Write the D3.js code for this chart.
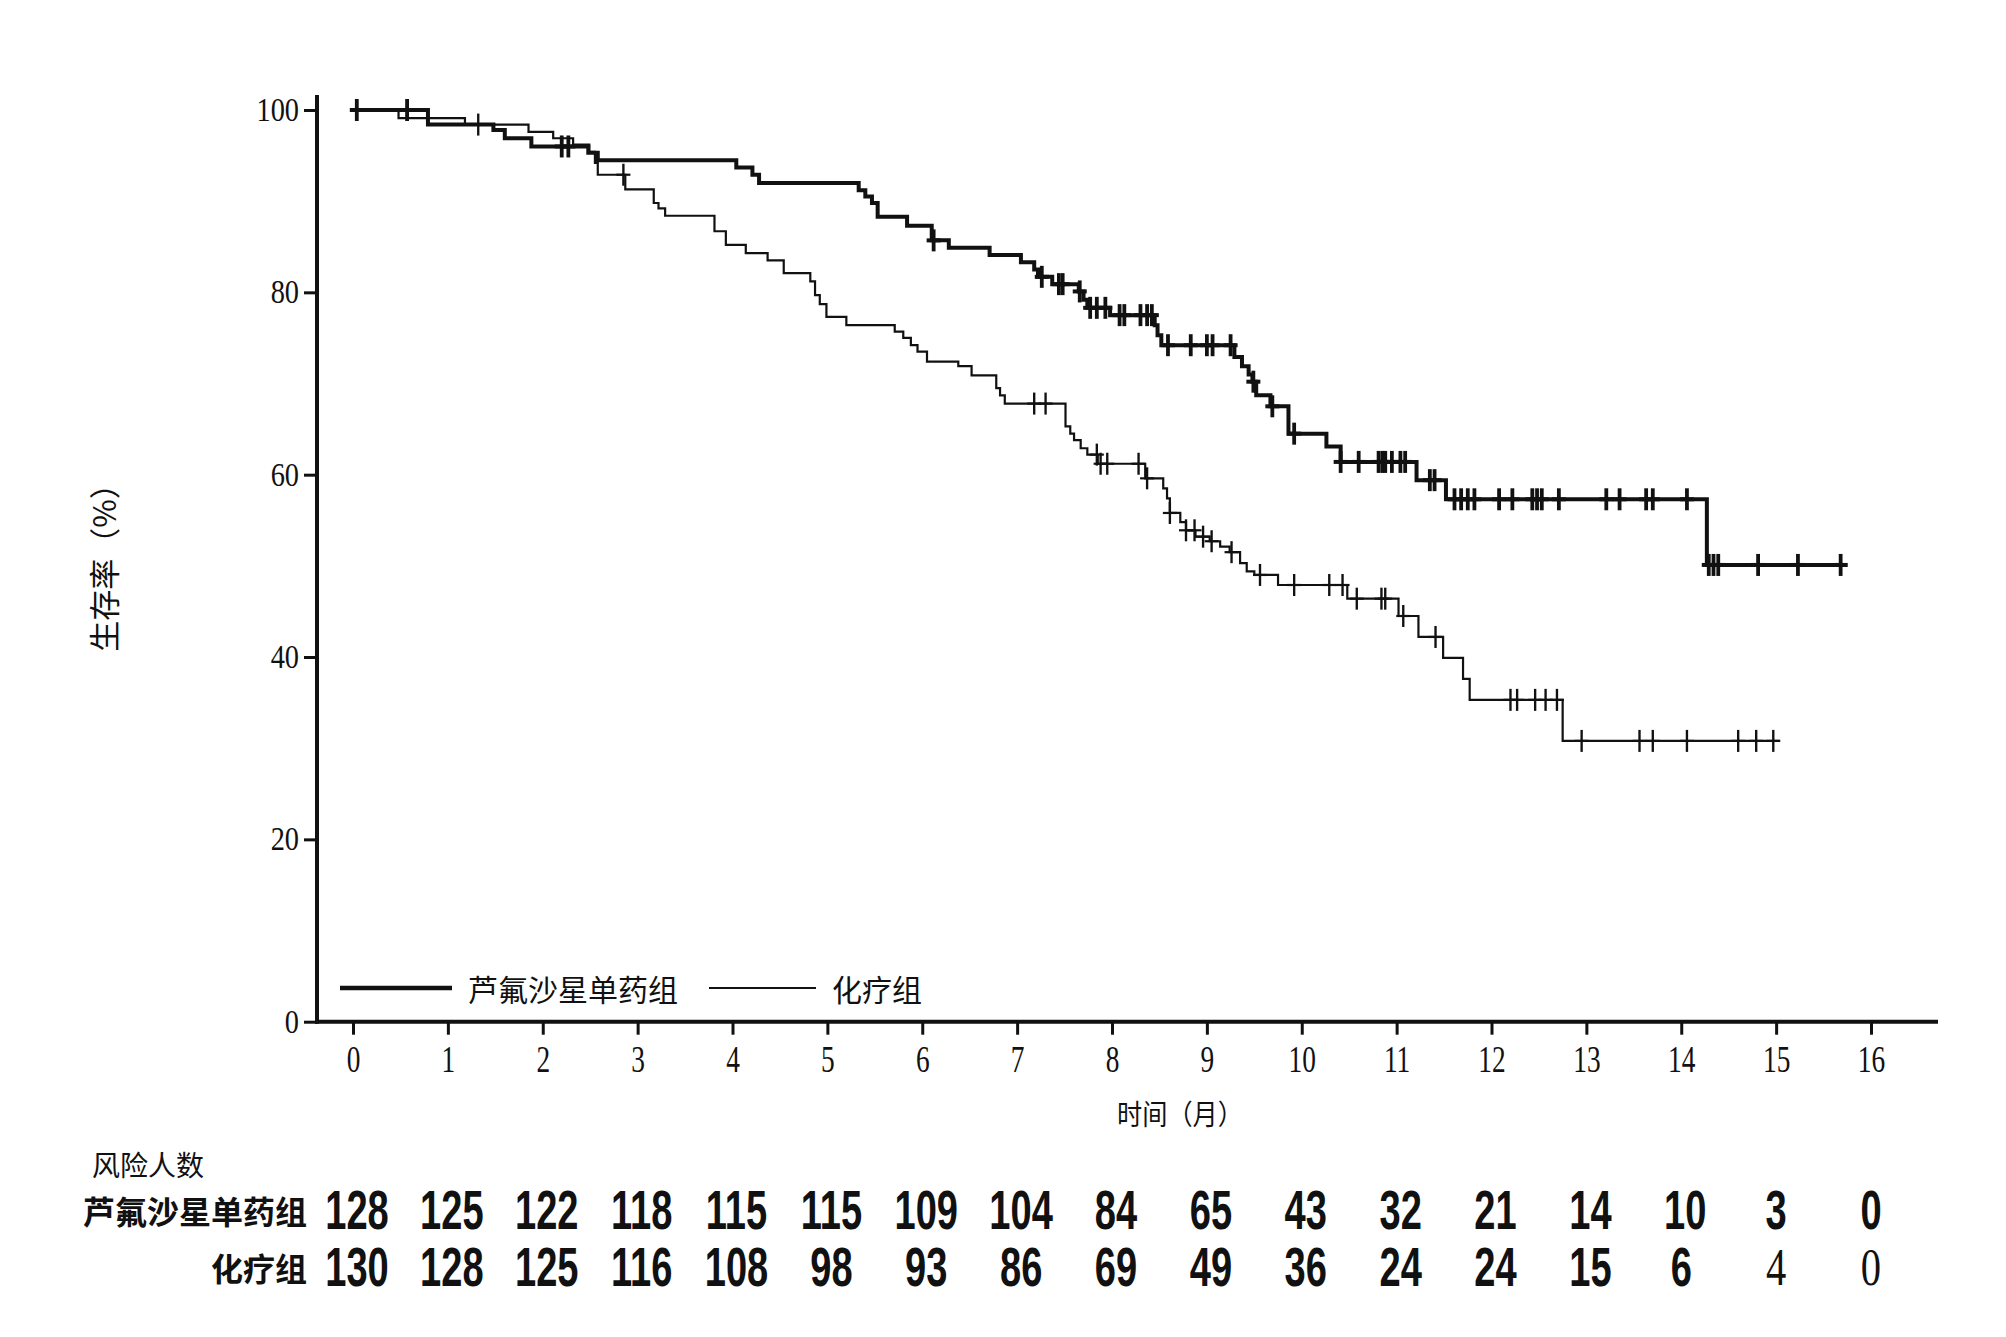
<!DOCTYPE html>
<html>
<head>
<meta charset="utf-8">
<script src="https://cdnjs.cloudflare.com/ajax/libs/d3/7.8.5/d3.min.js"></script>
<style>
    body { margin: 0; background: #fff; }
    svg { display: block; }
    .axis path.domain { display: none; }
    .axis line { stroke: #111; stroke-width: 3; }
    .axis text { fill: #111; font-family: "Liberation Serif", "Times New Roman", serif; }
    .cjk { font-family: "Noto Sans CJK SC", sans-serif; fill: #111; }
</style>
</head>
<body>
<div id="chart-area"></div>
<script>
// KM steps: time (months) -> survival (%) from that time on
var lfxTimes = [0, 0.79, 1.48, 1.60, 1.88, 2.48, 2.58, 4.04, 4.21, 4.28, 5.33, 5.40, 5.47, 5.53,
    5.84, 6.10, 6.28, 6.71, 7.04, 7.18, 7.22, 7.37, 7.65, 7.70, 7.74, 7.98, 8.45, 8.48, 8.52,
    9.29, 9.37, 9.44, 9.48, 9.52, 9.67, 9.86, 10.26, 10.41, 11.21, 11.52, 14.27];
var lfxSurv = [100, 98.4, 97.8, 96.9, 96.0, 95.3, 94.5, 93.7, 92.9, 92.0, 91.2, 90.5, 89.8, 88.3,
    87.3, 85.7, 84.9, 84.1, 83.3, 82.5, 81.7, 80.9, 80.1, 79.2, 78.3, 77.5, 76.4, 75.3, 74.2,
    72.9, 71.9, 71.0, 70.2, 68.7, 67.5, 64.5, 63.1, 61.4, 59.4, 57.3, 50.1];
var lfxEnd = 15.75;
var lfxCensor = [0.04, 0.57, 2.20, 2.27, 6.12, 7.26, 7.44, 7.48, 7.66, 7.77, 7.84, 7.93, 8.08, 8.13,
    8.30, 8.37, 8.42, 8.59, 8.83, 9.00, 9.06, 9.25, 9.49, 9.69, 9.92, 10.41, 10.60, 10.81, 10.85,
    10.88, 10.95, 11.04, 11.09, 11.35, 11.40, 11.61, 11.68, 11.75, 11.82, 12.08, 12.22, 12.43,
    12.48, 12.53, 12.71, 13.21, 13.35, 13.63, 13.70, 14.06, 14.29, 14.34, 14.39, 14.81, 15.23, 15.68];

var chemoTimes = [0, 0.48, 1.18, 1.85, 2.11, 2.32, 2.49, 2.55, 2.58, 2.87, 3.17, 3.22, 3.29, 3.81,
    3.93, 4.14, 4.37, 4.54, 4.82, 4.87, 4.92, 4.99, 5.20, 5.71, 5.80, 5.88, 5.95, 6.05, 6.38, 6.52,
    6.78, 6.82, 6.87, 7.51, 7.56, 7.60, 7.67, 7.74, 7.85, 8.35, 8.54, 8.58, 8.61, 8.72, 8.78, 8.88,
    9.03, 9.14, 9.24, 9.35, 9.42, 9.50, 9.75, 10.48, 11.02, 11.23, 11.49, 11.70, 11.77, 12.75];
var chemoSurv = [100, 99.1, 98.4, 97.6, 96.9, 96.2, 95.4, 94.2, 92.9, 91.3, 89.8, 89.2, 88.4, 86.7,
    85.2, 84.3, 83.5, 82.1, 81.2, 79.7, 78.7, 77.3, 76.4, 75.7, 75.0, 74.2, 73.5, 72.4, 71.9, 70.9,
    69.5, 68.7, 67.8, 65.3, 64.5, 63.8, 62.9, 62.2, 61.2, 59.6, 58.5, 57.4, 55.8, 54.8, 53.9, 53.2,
    52.7, 52.1, 51.5, 50.3, 49.4, 49.0, 47.9, 46.4, 44.5, 42.2, 39.9, 37.6, 35.3, 30.8];
var chemoEnd = 15.04;
var chemoCensor = [1.32, 2.85, 7.18, 7.30, 7.84, 7.88, 7.95, 8.28, 8.37, 8.61, 8.78, 8.87, 8.96,
    9.05, 9.26, 9.56, 9.92, 10.29, 10.43, 10.58, 10.84, 10.88, 11.07, 11.41, 12.20, 12.27, 12.46,
    12.57, 12.69, 12.95, 13.56, 13.70, 14.06, 14.60, 14.79, 14.97];

var monthTicks = [0, 1, 2, 3, 4, 5, 6, 7, 8, 9, 10, 11, 12, 13, 14, 15, 16];
var survTicks = [0, 20, 40, 60, 80, 100];
var riskLfx = [128, 125, 122, 118, 115, 115, 109, 104, 84, 65, 43, 32, 21, 14, 10, 3, 0];
var riskChemo = [130, 128, 125, 116, 108, 98, 93, 86, 69, 49, 36, 24, 24, 15, 6, 4, 0];

var width = 2006;
var height = 1337;

var svg = d3.select('#chart-area')
    .append("svg")
        .attr("width", width)
        .attr("height", height);

var x = d3.scaleLinear().domain([0, 16]).range([353, 1871]);
var y = d3.scaleLinear().domain([0, 100]).range([1021.7, 110]);

function survAt(times, surv, t) {
    var i = d3.bisectRight(times, t) - 1;
    return surv[Math.max(i, 0)];
}

function stepPoints(times, surv, end) {
    var pts = times.map((t, i) => [t, surv[i]]);
    pts.push([end, surv[surv.length - 1]]);
    return pts;
}

// axes
var yAxisCall = d3.axisLeft(y).tickValues(survTicks).tickSize(13).tickPadding(6);
svg.append("g")
    .attr('class', 'axis')
    .attr("transform", "translate(317,0)")
    .call(yAxisCall)
    .selectAll("text")
        .attr('font-size', 33)
        .attr('x', -18 / 0.86)
        .attr('transform', 'scale(0.86,1)');

var xAxisCall = d3.axisBottom(x).tickValues(monthTicks).tickSize(13).tickPadding(10);
svg.append("g")
    .attr('class', 'axis')
    .attr("transform", "translate(0," + y(0) + ")")
    .call(xAxisCall)
    .selectAll("text")
        .attr('font-size', 38)
        .attr('transform', 'scale(0.72,1)');

svg.append("line")
    .attr("x1", 317).attr("x2", 317)
    .attr("y1", 95).attr("y2", y(0) + 2)
    .attr("stroke", "#111").attr("stroke-width", 4);
svg.append("line")
    .attr("x1", 315).attr("x2", 1938)
    .attr("y1", y(0)).attr("y2", y(0))
    .attr("stroke", "#111").attr("stroke-width", 4);

// curves
var line = d3.line()
    .x(d => x(d[0]))
    .y(d => y(d[1]))
    .curve(d3.curveStepAfter);

var groups = [
    { times: chemoTimes, surv: chemoSurv, end: chemoEnd, censor: chemoCensor, w: 2.2 },
    { times: lfxTimes, surv: lfxSurv, end: lfxEnd, censor: lfxCensor, w: 4 }
];

groups.forEach(s => {
    svg.append("path")
        .attr("d", line(stepPoints(s.times, s.surv, s.end)))
        .attr("fill", "none")
        .attr("stroke", "#111")
        .attr("stroke-width", s.w);

    var marks = svg.append("g").selectAll("g")
        .data(s.censor)
        .enter().append("g")
            .attr("transform", d => "translate(" + x(d) + "," + y(survAt(s.times, s.surv, d)) + ")");
    marks.append("line")
        .attr("y1", -11).attr("y2", 11)
        .attr("stroke", "#111").attr("stroke-width", s.w * 0.8 + 0.6);
    marks.append("line")
        .attr("x1", -7).attr("x2", 7)
        .attr("stroke", "#111").attr("stroke-width", s.w);
});

// legend
svg.append("line").attr("x1", 340).attr("x2", 452).attr("y1", 988).attr("y2", 988)
    .attr("stroke", "#111").attr("stroke-width", 4.5);
svg.append("text").attr("class", "cjk").attr("x", 468).attr("y", 988)
    .attr("dominant-baseline", "central").attr("font-size", 30)
    .text("芦氟沙星单药组");
svg.append("line").attr("x1", 709).attr("x2", 816).attr("y1", 988).attr("y2", 988)
    .attr("stroke", "#111").attr("stroke-width", 2.2);
svg.append("text").attr("class", "cjk").attr("x", 832).attr("y", 988)
    .attr("dominant-baseline", "central").attr("font-size", 30)
    .text("化疗组");

// axis titles
svg.append("text").attr("class", "cjk")
    .attr("transform", "translate(1180,1113) scale(0.9,1)")
    .attr("text-anchor", "middle").attr("dominant-baseline", "central")
    .attr("font-size", 28)
    .text("时间（月）");
svg.append("text").attr("class", "cjk")
    .attr("transform", "translate(102,560) rotate(-90)")
    .attr("text-anchor", "middle").attr("dominant-baseline", "central")
    .attr("font-size", 31)
    .text("生存率（%）");

// number at risk table
svg.append("text").attr("class", "cjk").attr("x", 92).attr("y", 1164)
    .attr("dominant-baseline", "central").attr("font-size", 28)
    .text("风险人数");

var rows = [
    { label: "芦氟沙星单药组", vals: riskLfx, y: 1210 },
    { label: "化疗组", vals: riskChemo, y: 1267 }
];

rows.forEach((r, ri) => {
    svg.append("text").attr("class", "cjk")
        .attr("x", 307).attr("y", r.y)
        .attr("text-anchor", "end").attr("dominant-baseline", "central")
        .attr("font-size", 32).attr("font-weight", "bold")
        .text(r.label);

    svg.append("g").selectAll("text")
        .data(r.vals)
        .enter().append("text")
            .attr("transform", (d, i) => {
                var plain = ri === 1 && i >= 15;
                var dx = d >= 10 ? 4 : 0;
                return "translate(" + (x(monthTicks[i]) + dx) + "," + r.y + ") scale(" + (plain ? 0.78 : 0.68) + ",1)";
            })
            .attr("text-anchor", "middle")
            .attr("dominant-baseline", "central")
            .attr("fill", "#111")
            .style("font-family", (d, i) => (ri === 1 && i >= 15) ? '"Liberation Serif", serif' : '"Liberation Sans", Arial, sans-serif')
            .attr("font-weight", (d, i) => (ri === 1 && i >= 15) ? "normal" : "bold")
            .attr("font-size", (d, i) => (ri === 1 && i >= 15) ? 52 : 56)
            .text(d => d);
});
</script>
</body>
</html>
